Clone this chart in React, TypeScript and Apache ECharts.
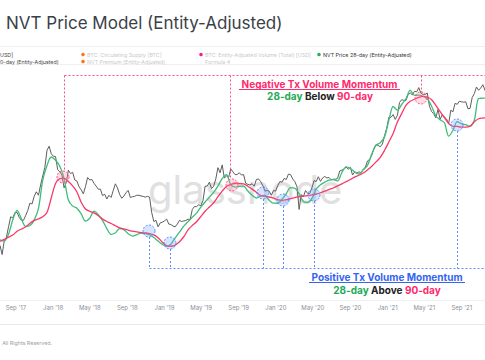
import React, { useEffect, useRef } from "react";
import * as echarts from "echarts";

const DAY = 86400000;
const AXIS_START = "2017-07-11";
const AXIS_END = "2021-11-16";

// BTC price, weekly from 2017-07-11
const PRICE_START = "2017-07-11";
const price = [
  2300, 1900, 2550, 2730, 3400, 4200, 4100, 4600, 4600, 4150, 3900, 3900, 4300, 4800, 5600, 5500, 6450, 7100, 6600, 8200, 9900, 11900, 17000, 18500, 15800,
  15000, 14900, 11300, 10800, 10100, 7700, 8600, 11200, 10400, 10700, 9100, 8900, 7900, 7400, 6800, 7900, 9600, 9100, 9200, 8500, 8000, 7500, 7500, 6550, 6750, 6100,
  6600, 6300, 7300, 8400, 7700, 6700, 6200, 6500, 7000, 7300, 6300, 6400, 6450, 6600, 6600, 6500, 6450, 6350, 6450, 6350, 4600, 3800, 3900, 3400, 3700, 3750,
  3850, 4000, 3600, 3570, 3450, 3400, 3600, 3900, 3800, 3850, 3880, 4000, 3950, 4900, 5200, 5200, 5400, 5300, 5900, 8000, 8000, 8700, 7600, 8000, 9300, 11800,
  10600, 12500, 9500, 9900, 9600, 11500, 10800, 10200, 10200, 10600, 10100, 10200, 8500, 8300, 8200, 8400, 8000, 9200, 9300, 8800, 8100, 7200, 7300, 7200, 6600, 7300, 7200,
  8100, 8800, 8700, 9400, 9200, 10300, 10200, 9300, 8800, 7900, 4900, 6700, 6400, 7300, 6850, 6850, 7750, 9000, 8800, 9750, 8850, 9500, 9800, 9500, 9600, 9150,
  9250, 9250, 9400, 11000, 11200, 11400, 12000, 11400, 11900, 10100, 10800, 10500, 10800, 10600, 11400, 11900, 13600, 14000, 15300, 17700, 19200, 18800, 18300, 19400, 23200, 27000,
  34000, 34000, 36000, 32500, 35500, 46500, 49200, 48600, 48400, 54800, 56800, 54500, 58800, 58000, 63500, 56500, 55000, 55000, 56700, 42900, 38400,
  36700, 33600, 40200, 32500, 36000, 34200, 32800, 29800, 39500, 38200, 45600, 44700, 47700, 47100, 46800, 47100, 40700, 41000, 51500, 56000, 64300, 60000,
  63000, 67500, 60000, 57000,
];

// NVT prices, every 14 days from 2017-07-11
const NVT_START = "2017-07-11";
const nvt28 = [
  2590, 2520, 2910, 3950, 4810, 4030, 3430, 3490, 3915, 5000,
  9080, 12340, 14760, 13770, 12140, 9370, 5975, 5255, 5030, 4470,
  3830, 4070, 4720, 4385, 3875, 3280, 2900, 3000, 3270, 3200,
  2940, 2800, 2880, 2985, 2955, 2880, 2715, 2520, 2350, 2250,
  2360, 2700, 3040, 3450, 3790, 4160, 4535, 5150, 5730, 6370,
  7010, 8020, 9350, 10170, 8240, 7820, 7950, 8000, 7230, 6600,
  6230, 6500, 6570, 5940, 5590, 5580, 6080, 6835, 7740, 7650,
  6850, 5790, 5680, 6180, 7500, 8240, 8690, 9080, 9160, 8930,
  10660, 11980, 11590, 10770, 10300, 11250, 12390, 15690, 18870, 19930,
  22610, 31920, 42660, 39560, 44500, 50260, 60130, 54000, 54100, 52870,
  50260, 42940, 34940, 32320, 30350, 22900, 25750, 30990, 29650, 29090,
  28130, 31920, 50500, 50800, 51000,
];
const nvt90 = [
  2500, 2610, 2740, 2860, 3100, 3250, 3390, 3670, 3890, 4020,
  4205, 4600, 6270, 8470, 9350, 9430, 8800, 8050, 7070, 5700,
  4945, 4710, 4555, 4295, 4000, 3800, 3645, 3480, 3325, 3250,
  3180, 3100, 3055, 3010, 2985, 2940, 2870, 2705, 2460, 2285,
  2260, 2315, 2485, 2760, 3185, 3500, 3785, 4220, 4720, 5160,
  5645, 6405, 7205, 7935, 8275, 8500, 8450, 8400, 7990, 7510,
  7040, 6570, 6480, 6365, 6220, 6025, 5940, 6015, 6155, 6285,
  6430, 6480, 6550, 6650, 6780, 6960, 7190, 7450, 7690, 8040,
  8400, 8780, 9195, 9680, 10060, 10540, 11270, 12160, 13310, 14630,
  16990, 20260, 24240, 30800, 36750, 43760, 47600, 49740, 51800, 52770,
  52100, 49220, 43760, 38250, 33720, 29840, 28130, 28050, 27700, 27700,
  28200, 30990, 33000, 33470, 33700,
];

const tickDates = [
  "2017-09-01", "2018-01-01", "2018-05-01", "2018-09-01", "2019-01-01", "2019-05-01", "2019-09-01",
  "2020-01-01", "2020-05-01", "2020-09-01", "2021-01-01", "2021-05-01", "2021-09-01",
];
const tickLabels = [
  "Sep '17", "Jan '18", "May '18", "Sep '18", "Jan '19", "May '19", "Sep '19",
  "Jan '20", "May '20", "Sep '20", "Jan '21", "May '21", "Sep '21",
];

// legend texts as visible in the (left-cropped) reference
const legendRow1 = ["USD]", "BTC: Circulating Supply [BTC]", "BTC: Entity-Adjusted Volume (Total) [USD]", "NVT Price 28-day (Entity-Adjusted)"];
const legendRow2 = ["0-day (Entity-Adjusted)", "NVT Premium (Entity-Adjusted)", "Formula 4"];

const ts = (d: string) => Date.parse(d + "T00:00:00Z");

const FONT = "Inter, 'Noto Sans', sans-serif";
const PINK = "#ff4d85";
const BLUE = "#5a8bff";
const TXT_PINK = "#ff2a6d";
const TXT_BLUE = "#3565f0";
const TXT_GREEN = "#1faa57";

function dline(x1: number, y1: number, x2: number, y2: number, color: string) {
  return {
    type: "line",
    z: 20,
    shape: { x1, y1, x2, y2 },
    style: { stroke: color, lineWidth: 1, lineDash: [2, 2] },
    silent: true,
  };
}
function dcircle(cx: number, cy: number, color: string, fill: string) {
  return {
    type: "circle",
    z: 21,
    shape: { cx, cy, r: 6 },
    style: { fill, stroke: color, lineWidth: 1, lineDash: [2, 1.5] },
    silent: true,
  };
}
function txt(x: number, y: number, text: string, size: number, fill: string, align = "left", weight: any = "normal") {
  return {
    type: "text",
    z: 22,
    x,
    y,
    style: { text, fontSize: size, fontFamily: FONT, fontWeight: weight, fill, align, verticalAlign: "middle" },
    silent: true,
  };
}
function dot(cx: number, cy: number, color: string) {
  return { type: "circle", z: 22, shape: { cx, cy, r: 1.8 }, style: { fill: color }, silent: true };
}
function hline(y: number, color: string) {
  return { type: "line", z: 1, shape: { x1: 0, y1: y, x2: 485, y2: y }, style: { stroke: color, lineWidth: 1 }, silent: true };
}
function richLine(x: number, y: number, word: string) {
  const part = (c: string) => ({ fill: c, color: c, fontSize: 10, fontWeight: "bold", fontFamily: FONT });
  return {
    type: "text",
    z: 22,
    x,
    y,
    style: {
      text: "{g|28-day} {k|" + word + "} {p|90-day}",
      fontSize: 10,
      fontWeight: "bold",
      fontFamily: FONT,
      fill: "#222",
      align: "center",
      verticalAlign: "middle",
      rich: { g: part(TXT_GREEN), k: part("#222"), p: part(TXT_PINK) },
    },
    silent: true,
  };
}

export default function App() {
  const ref = useRef<HTMLDivElement>(null);
  useEffect(() => {
    if (!ref.current) return;
    const chart = echarts.init(ref.current, null, { renderer: "svg" });
    const p0 = ts(PRICE_START);
    const n0 = ts(NVT_START);
    const priceData = price.map((v, i) => [p0 + i * 7 * DAY, v]);
    const d28 = nvt28.map((v, i) => [n0 + i * 14 * DAY, v]);
    const d90 = nvt90.map((v, i) => [n0 + i * 14 * DAY, v]);
    const tickTs = tickDates.map(ts);

    const pinkFill = "rgba(255,130,165,0.28)";
    const blueFill = "rgba(120,165,255,0.3)";

    const graphics: any[] = [
      hline(46.5, "#efefef"),
      hline(64.5, "#efefef"),
      hline(324.5, "#e8e8e8"),
      txt(6, 23, "NVT Price Model (Entity-Adjusted)", 17, "#3b3f48"),
      txt(0, 54.5, legendRow1[0], 5.3, "#444"),
      txt(0, 61.5, legendRow2[0], 5.3, "#444"),
      dot(83, 54.5, "#ff7414"),
      txt(87, 54.5, legendRow1[1], 5.3, "#c9c9c9"),
      dot(83, 61.5, "#ff7414"),
      txt(87, 61.5, legendRow2[1], 5.3, "#c9c9c9"),
      dot(201, 54.5, "#ff1a8c"),
      txt(205, 54.5, legendRow1[2], 5.3, "#c9c9c9"),
      txt(205, 61.5, legendRow2[2], 5.3, "#c9c9c9"),
      dot(319, 54.5, "#1db45a"),
      txt(323, 54.5, legendRow1[3], 5.3, "#333"),
      {
        type: "text",
        z: 0,
        x: 148,
        y: 189,
        style: { text: "glassnode", fontSize: 40, fontFamily: FONT, fill: "#e0e0e0", align: "left", verticalAlign: "middle" },
        silent: true,
      },
      txt(52, 343, "All Rights Reserved.", 5.3, "#a0a0a0", "right"),
      dline(64.5, 75.5, 485, 75.5, PINK),
      dline(64.5, 75.5, 64.5, 171, PINK),
      dline(230.5, 75.5, 230.5, 179, PINK),
      dline(421.5, 75.5, 421.5, 92, PINK),
      dcircle(63, 177, PINK, pinkFill),
      dcircle(232, 185, PINK, pinkFill),
      dcircle(421, 98, PINK, pinkFill),
      txt(319.5, 83.5, "Negative Tx Volume Momentum", 10, TXT_PINK, "center", "bold"),
      { type: "line", z: 22, shape: { x1: 239, y1: 89.5, x2: 400, y2: 89.5 }, style: { stroke: TXT_PINK, lineWidth: 1 }, silent: true },
      richLine(320, 96, "Below"),
      dline(149.5, 268.5, 485, 268.5, BLUE),
      dline(149.5, 237, 149.5, 268.5, BLUE),
      dline(170.5, 249, 170.5, 268.5, BLUE),
      dline(263.5, 199, 263.5, 268.5, BLUE),
      dline(283.5, 206, 283.5, 268.5, BLUE),
      dline(314.5, 201, 314.5, 268.5, BLUE),
      dline(457.5, 131, 457.5, 268.5, BLUE),
      dcircle(149, 231, BLUE, blueFill),
      dcircle(170, 243, BLUE, blueFill),
      dcircle(263, 193, BLUE, blueFill),
      dcircle(283, 200, BLUE, blueFill),
      dcircle(314, 195, BLUE, blueFill),
      dcircle(457, 125, BLUE, blueFill),
      txt(387, 276.7, "Positive Tx Volume Momentum", 10, TXT_BLUE, "center", "bold"),
      { type: "line", z: 22, shape: { x1: 309, y1: 282.5, x2: 465, y2: 282.5 }, style: { stroke: TXT_BLUE, lineWidth: 1 }, silent: true },
      richLine(387, 290, "Above"),
    ];

    chart.setOption({
      animation: false,
      backgroundColor: "#ffffff",
      grid: { left: 0, right: 0, top: 66, bottom: 60, containLabel: false },
      xAxis: {
        type: "value",
        min: ts(AXIS_START),
        max: ts(AXIS_END),
        axisLine: { show: true, lineStyle: { color: "#f0f0f0" } },
        axisTick: { show: false },
        splitLine: { show: false },
        axisLabel: {
          customValues: tickTs,
          fontSize: 6,
          fontFamily: FONT,
          color: "#8a8f98",
          margin: 4,
          formatter: (val: number) => {
            let best = 0;
            for (let i = 0; i < tickTs.length; i++) {
              if (Math.abs(tickTs[i] - val) < Math.abs(tickTs[best] - val)) best = i;
            }
            return tickLabels[best];
          },
        },
      },
      yAxis: {
        type: "log",
        logBase: 10,
        min: 730,
        max: 100000,
        axisLine: { show: false },
        axisTick: { show: false },
        axisLabel: { show: false },
        splitLine: { show: false },
      },
      series: [
        {
          name: "BTC: Price [USD]",
          type: "line",
          data: priceData,
          showSymbol: false,
          lineStyle: { color: "#5e5e5e", width: 1 },
          z: 3,
        },
        {
          name: "NVT Price 28-day (Entity-Adjusted)",
          type: "line",
          data: d28,
          showSymbol: false,
          smooth: 0.3,
          lineStyle: { color: "#3dbd78", width: 1.3 },
          z: 4,
        },
        {
          name: "NVT Price 90-day (Entity-Adjusted)",
          type: "line",
          data: d90,
          showSymbol: false,
          smooth: 0.3,
          lineStyle: { color: "#fa3867", width: 1.3 },
          z: 5,
        },
      ],
      graphic: { elements: graphics },
    });
    return () => chart.dispose();
  }, []);
  return (
    <div
      ref={ref}
      style={{ position: "fixed", left: 0, top: 0, width: 485, height: 360, background: "#fff" }}
    />
  );
}
